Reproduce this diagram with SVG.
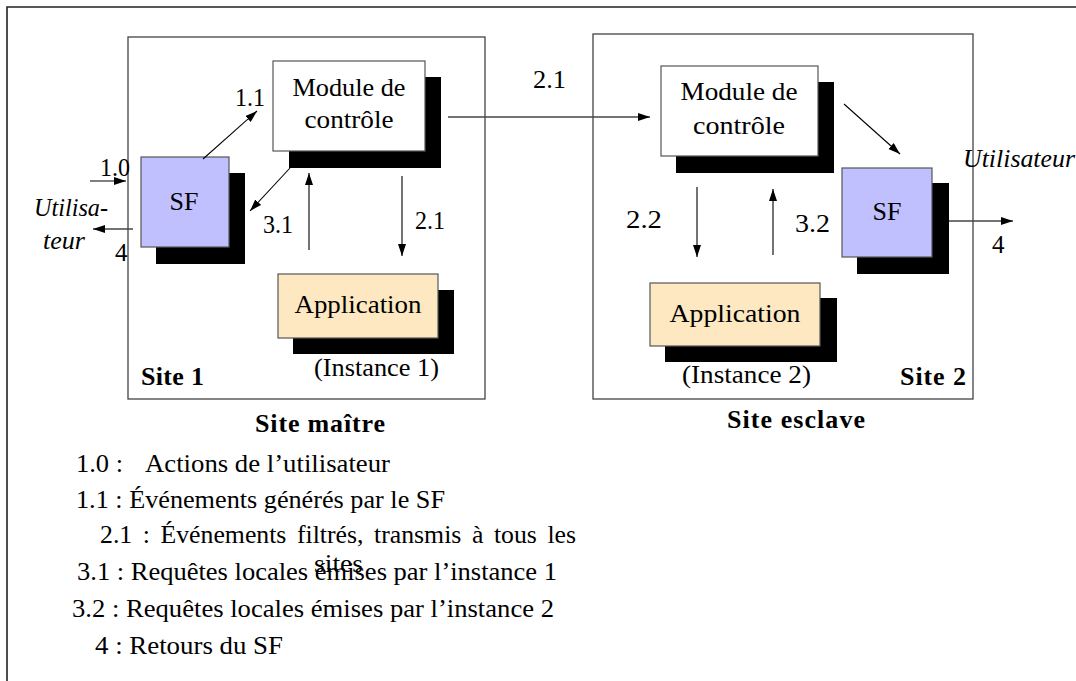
<svg xmlns="http://www.w3.org/2000/svg" width="1076" height="681" viewBox="0 0 1076 681">
  <defs>
    <marker id="head" markerUnits="userSpaceOnUse" markerWidth="13" markerHeight="9" refX="12" refY="4" orient="auto">
      <path d="M0,0 L12,4 L0,8 z" fill="#000"/>
    </marker>
    <style>
      .box { stroke: #555; stroke-width: 1.2; }
      .plain { fill: #fff; }
      .sf { fill: #c0c0ff; }
      .app { fill: #fde8c1; }
      .shadow { fill: #000; }
      .site { fill: none; stroke: #444; stroke-width: 1.3; }
      .lbl { font-size: 26px; }
      .num { font-size: 25px; }
      .it { font-size: 25px; font-style: italic; }
      .bold { font-size: 26px; font-weight: bold; }
      .legend { font-size: 25px; }
      .arrow { stroke: #000; stroke-width: 1.1; fill: none; marker-end: url(#head); }
      .wide { stroke: #444; stroke-width: 1.6; }
    </style>
  </defs>

  <rect width="1076" height="681" fill="#fff"/>

  <!-- outer frame (left and top edges only) -->
  <path d="M7,681 V7 H1076" fill="none" stroke="#222" stroke-width="1.6"/>

  <g font-family="Liberation Serif, Times New Roman, serif" fill="#000">

  <!-- site containers -->
  <g id="site1">
    <rect class="site" x="128" y="37" width="357" height="362"/>
    <text class="bold" x="141" y="385" textLength="63" lengthAdjust="spacing">Site 1</text>
    <text class="bold" x="255" y="432" textLength="130" lengthAdjust="spacing">Site  maître</text>
  </g>
  <g id="site2">
    <rect class="site" x="593" y="34" width="380" height="365"/>
    <text class="bold" x="900" y="385" textLength="66" lengthAdjust="spacing">Site 2</text>
    <text class="bold" x="727" y="428" textLength="138" lengthAdjust="spacing">Site  esclave</text>
  </g>

  <!-- site 1 nodes -->
  <g id="module1">
    <rect class="shadow" x="289" y="77" width="152" height="91"/>
    <rect class="box plain" x="273" y="61" width="152" height="90"/>
    <text class="lbl" x="349" y="96" text-anchor="middle" textLength="113" lengthAdjust="spacingAndGlyphs">Module de</text>
    <text class="lbl" x="349" y="128" text-anchor="middle" textLength="89" lengthAdjust="spacingAndGlyphs">contrôle</text>
  </g>
  <g id="sf1">
    <rect class="shadow" x="156" y="173" width="89" height="91"/>
    <rect class="box sf" x="141" y="157" width="88" height="90"/>
    <text class="lbl" x="184" y="210" text-anchor="middle">SF</text>
  </g>
  <g id="app1">
    <rect class="shadow" x="293" y="290" width="161" height="64"/>
    <rect class="box app" x="278" y="274" width="160" height="64"/>
    <text class="lbl" x="358" y="313" text-anchor="middle" textLength="127" lengthAdjust="spacingAndGlyphs">Application</text>
    <text class="lbl" x="314" y="376" textLength="125" lengthAdjust="spacingAndGlyphs">(Instance  1)</text>
  </g>

  <!-- site 2 nodes -->
  <g id="module2">
    <rect class="shadow" x="676" y="82" width="158" height="91"/>
    <rect class="box plain" x="661" y="66" width="157" height="90"/>
    <text class="lbl" x="739" y="100" text-anchor="middle" textLength="117" lengthAdjust="spacingAndGlyphs">Module de</text>
    <text class="lbl" x="739" y="134" text-anchor="middle" textLength="92" lengthAdjust="spacingAndGlyphs">contrôle</text>
  </g>
  <g id="sf2">
    <rect class="shadow" x="857" y="183" width="92" height="91"/>
    <rect class="box sf" x="842" y="168" width="90" height="89"/>
    <text class="lbl" x="887" y="220" text-anchor="middle">SF</text>
  </g>
  <g id="app2">
    <rect class="shadow" x="665" y="298" width="172" height="64"/>
    <rect class="box app" x="650" y="283" width="170" height="63"/>
    <text class="lbl" x="735" y="322" text-anchor="middle" textLength="131" lengthAdjust="spacingAndGlyphs">Application</text>
    <text class="lbl" x="682" y="383" textLength="129" lengthAdjust="spacingAndGlyphs">(Instance  2)</text>
  </g>

  <!-- connectors -->
  <g id="connectors">
    <line class="arrow" x1="90" y1="181" x2="126" y2="181"/>
    <line class="arrow wide" x1="133" y1="229" x2="93" y2="229"/>
    <line class="arrow" x1="203" y1="159" x2="257" y2="111"/>
    <line class="arrow" x1="290" y1="168" x2="250" y2="211"/>
    <line class="arrow" x1="309" y1="250" x2="309" y2="173"/>
    <line class="arrow" x1="402" y1="176" x2="402" y2="256"/>
    <line class="arrow wide" x1="448" y1="117" x2="650" y2="117"/>
    <line class="arrow" x1="844" y1="104" x2="900" y2="154"/>
    <line class="arrow" x1="697" y1="187" x2="697" y2="257"/>
    <line class="arrow" x1="773" y1="255" x2="773" y2="189"/>
    <line class="arrow wide" x1="949" y1="221" x2="1013" y2="221"/>

    <text class="num" x="100" y="176" textLength="30" lengthAdjust="spacingAndGlyphs">1.0</text>
    <text class="num" x="115" y="261">4</text>
    <text class="it" x="34" y="216" textLength="74" lengthAdjust="spacingAndGlyphs">Utilisa-</text>
    <text class="it" x="43" y="249" textLength="42" lengthAdjust="spacingAndGlyphs">teur</text>
    <text class="num" x="235" y="106" textLength="30" lengthAdjust="spacingAndGlyphs">1.1</text>
    <text class="num" x="263" y="233" textLength="30" lengthAdjust="spacingAndGlyphs">3.1</text>
    <text class="num" x="415" y="229" textLength="30" lengthAdjust="spacingAndGlyphs">2.1</text>
    <text class="num" x="533" y="88" textLength="33" lengthAdjust="spacingAndGlyphs">2.1</text>
    <text class="num" x="626" y="228" textLength="36" lengthAdjust="spacingAndGlyphs">2.2</text>
    <text class="num" x="795" y="232" textLength="35" lengthAdjust="spacingAndGlyphs">3.2</text>
    <text class="num" x="992" y="253">4</text>
    <text class="it" x="963" y="167" textLength="112" lengthAdjust="spacingAndGlyphs">Utilisateur</text>
  </g>

  <!-- legend -->
  <g id="legend">
    <text class="legend" x="76" y="472" textLength="47" lengthAdjust="spacingAndGlyphs">1.0 :</text>
    <text class="legend" x="145" y="472" textLength="245" lengthAdjust="spacingAndGlyphs">Actions de l’utilisateur</text>
    <text class="legend" x="76" y="508" textLength="369" lengthAdjust="spacingAndGlyphs">1.1 : Événements générés par le SF</text>
    <text class="legend" x="100" y="543" textLength="476" lengthAdjust="spacingAndGlyphs" word-spacing="4">2.1 : Événements filtrés, transmis à tous les</text>
    <text class="legend" x="314" y="572" textLength="49" lengthAdjust="spacingAndGlyphs">sites</text>
    <text class="legend" x="77" y="580" textLength="480" lengthAdjust="spacingAndGlyphs">3.1 : Requêtes locales émises par l’instance 1</text>
    <text class="legend" x="72" y="617" textLength="482" lengthAdjust="spacingAndGlyphs">3.2 : Requêtes locales émises par l’instance 2</text>
    <text class="legend" x="95" y="654" textLength="188" lengthAdjust="spacingAndGlyphs">4 : Retours du SF</text>
  </g>

  </g>
</svg>
